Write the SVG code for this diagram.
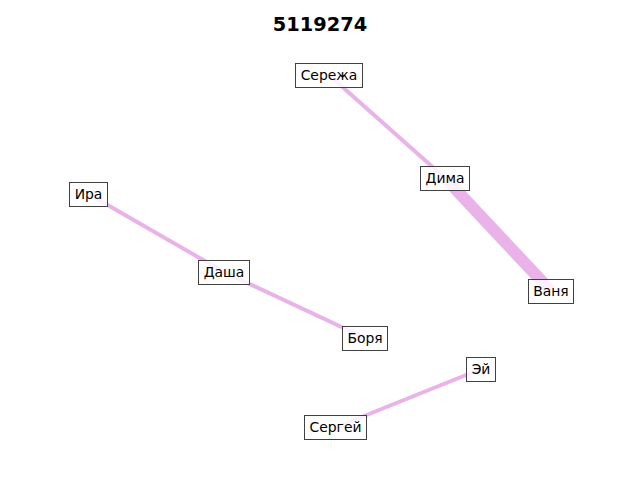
<svg xmlns="http://www.w3.org/2000/svg" width="640" height="480" viewBox="0 0 640 480">
<style>
.edge{stroke:#e9b3e9;stroke-linecap:butt;fill:none}
.box{fill:#ffffff;fill-opacity:0.82;stroke:#404040;stroke-width:1}
.lbl{font-family:"DejaVu Sans",sans-serif;font-size:13.9px;fill:#000;text-anchor:middle}
.title{font-family:"DejaVu Sans",sans-serif;font-size:19.4px;font-weight:bold;fill:#000;text-anchor:middle}
</style>
<rect width="640" height="480" fill="#ffffff"/>
<text class="title" x="320" y="31">5119274</text>
<g id="connectors">
<line class="edge" x1="329" y1="75" x2="445" y2="178" stroke-width="4"/>
<line class="edge" x1="445" y1="178" x2="551" y2="291" stroke-width="12"/>
<line class="edge" x1="88.5" y1="194" x2="224" y2="272" stroke-width="4"/>
<line class="edge" x1="224" y1="272" x2="365" y2="338" stroke-width="4"/>
<line class="edge" x1="481" y1="369" x2="335.5" y2="427.5" stroke-width="4"/>
</g>
<g id="node-serezha"><rect class="box" x="295.5" y="63.5" width="67" height="24"/><text class="lbl" x="329" y="80">Сережа</text></g>
<g id="node-dima"><rect class="box" x="420.5" y="166.5" width="49" height="24"/><text class="lbl" x="445" y="183">Дима</text></g>
<g id="node-vanya"><rect class="box" x="528.5" y="279.5" width="45" height="24"/><text class="lbl" x="551" y="296">Ваня</text></g>
<g id="node-ira"><rect class="box" x="69.5" y="182.5" width="38" height="24"/><text class="lbl" x="88.5" y="199">Ира</text></g>
<g id="node-dasha"><rect class="box" x="198.5" y="260.5" width="51" height="24"/><text class="lbl" x="224" y="277">Даша</text></g>
<g id="node-borya"><rect class="box" x="342.5" y="326.5" width="45" height="24"/><text class="lbl" x="365" y="343">Боря</text></g>
<g id="node-ey"><rect class="box" x="466.5" y="357.5" width="29" height="24"/><text class="lbl" x="481" y="374">Эй</text></g>
<g id="node-sergey"><rect class="box" x="304.5" y="415.5" width="62" height="24"/><text class="lbl" x="335.5" y="432">Сергей</text></g>
</svg>
